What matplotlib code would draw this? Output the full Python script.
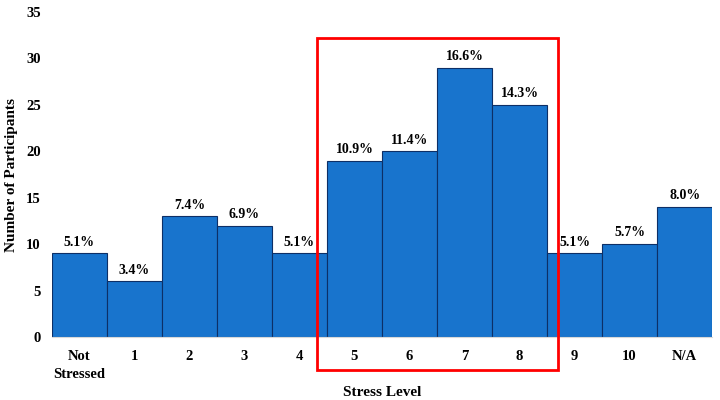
import matplotlib
matplotlib.use('Agg')
from matplotlib import pyplot as plt
from matplotlib.patches import Rectangle

# data
levels = ['Not\nStressed', '1', '2', '3', '4', '5', '6', '7', '8', '9', '10', 'N/A']
counts = [9, 6, 13, 12, 9, 19, 20, 29, 25, 9, 10, 14]
pct_labels = ['5.1%', '3.4%', '7.4%', '6.9%', '5.1%', '10.9%', '11.4%',
              '16.6%', '14.3%', '5.1%', '5.7%', '8.0%']

plt.rcParams['font.family'] = ['Liberation Serif', 'DejaVu Serif']
plt.rcParams['font.weight'] = 'bold'

fig = plt.figure(figsize=(7.2, 4), dpi=100)
ax = fig.add_axes([0.072, 0.1575, 0.917, 0.8125])

x = list(range(len(levels)))
bars = ax.bar(x, counts, width=1.0, color='#1874cd', edgecolor='#0d2f66', linewidth=0.8)

for xi, c, lab in zip(x, counts, pct_labels):
    ax.text(xi, c + 0.5, lab, ha='center', va='bottom', fontsize=10, fontweight='bold')

ax.set_xlim(-0.5, len(levels) - 0.5)
ax.set_ylim(0, 35)
ax.set_yticks(range(0, 36, 5))
ax.set_xticks(x)
ax.set_xticklabels(levels, fontsize=10.5, fontweight='bold', linespacing=1.5)
ax.tick_params(axis='both', length=0, labelsize=10.5)
ax.tick_params(axis='x', pad=9)
ax.tick_params(axis='y', pad=8)
for s in ['top', 'right', 'left']:
    ax.spines[s].set_visible(False)
ax.spines['bottom'].set_color('#d9d9d9')

ax.set_xlabel('Stress Level', fontsize=11, fontweight='bold', labelpad=4)
ax.set_ylabel('Number of Participants', fontsize=11, fontweight='bold')
ax.yaxis.set_label_coords(-0.052, 0.5)

# red box around levels 5-8
box = Rectangle((4.32, -3.55), 4.38, 35.75, fill=False, edgecolor='#ff0000',
                linewidth=2, clip_on=False, zorder=5)
ax.add_patch(box)

fig.savefig('out.png', dpi=100)
